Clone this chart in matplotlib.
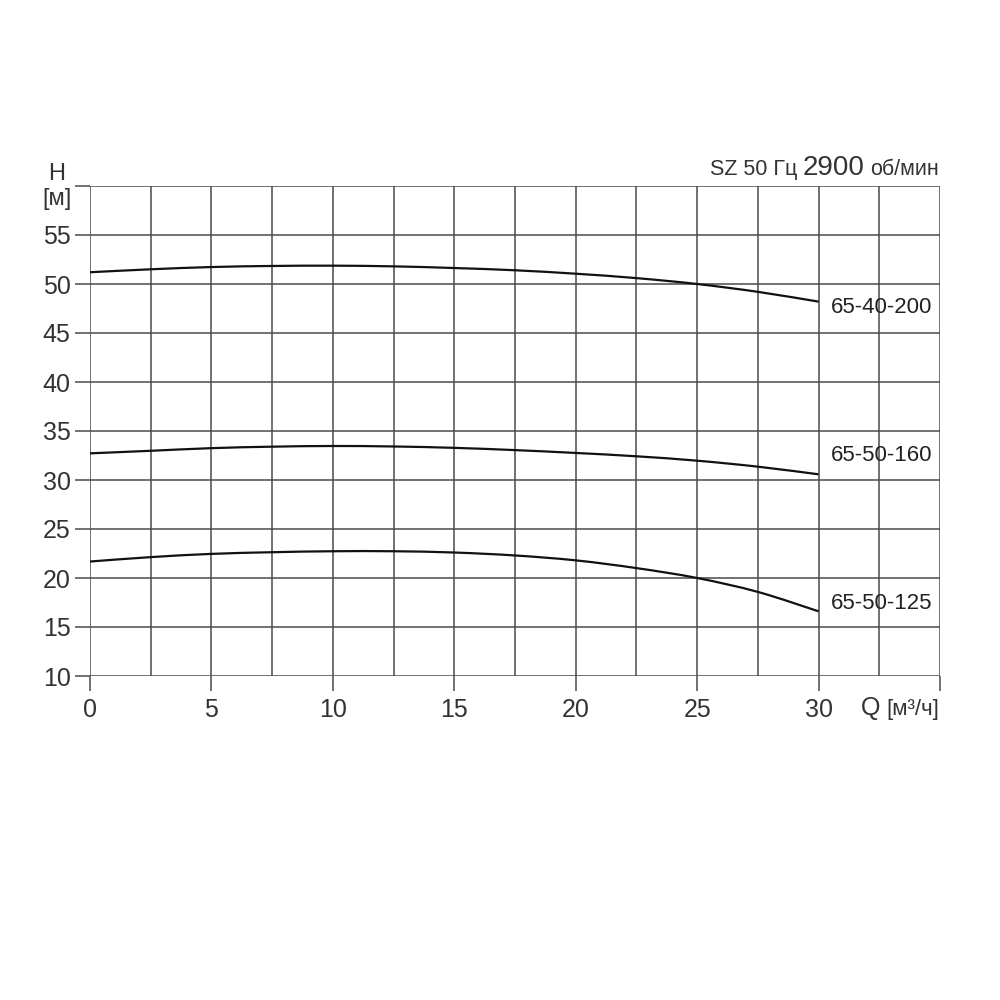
import matplotlib.pyplot as plt
from matplotlib.path import Path
from matplotlib.patches import PathPatch
from matplotlib.offsetbox import TextArea, HPacker, AnchoredOffsetbox

plt.rcParams['font.family'] = ['Liberation Sans', 'DejaVu Sans']

# flow Q [m3/h] and head H [m]
q = [0, 2.5, 5, 7.5, 10, 12.5, 15, 17.5, 20, 22.5, 25, 27.5, 30]
h_200 = [51.2, 51.5, 51.73, 51.84, 51.87, 51.8, 51.63, 51.4, 51.05, 50.6, 50.0, 49.2, 48.2]
h_160 = [32.72, 32.98, 33.25, 33.4, 33.47, 33.42, 33.28, 33.05, 32.76, 32.42, 31.97, 31.36, 30.58]
h_125 = [21.68, 22.13, 22.46, 22.63, 22.73, 22.73, 22.6, 22.3, 21.8, 21.01, 20.0, 18.58, 16.6]
names = ["65-40-200", "65-50-160", "65-50-125"]
label_h = [47.65, 32.45, 17.35]

x_ticks = [0, 5, 10, 15, 20, 25, 30, 35]
x_labels = ["0", "5", "10", "15", "20", "25", "30", ""]
y_ticks = [10, 15, 20, 25, 30, 35, 40, 45, 50, 55, 60]
y_labels = ["10", "15", "20", "25", "30", "35", "40", "45", "50", "55", ""]

grid_c = "#4a4a4a"
txt_c = "#333333"


def smooth_path(xs, ys):
    # catmull-rom through the read points, drawn as cubic bezier segments
    verts = [(xs[0], ys[0])]
    codes = [Path.MOVETO]
    n = len(xs)
    for i in range(n - 1):
        x0, y0 = (xs[i - 1], ys[i - 1]) if i > 0 else (xs[i], ys[i])
        x1, y1 = xs[i], ys[i]
        x2, y2 = xs[i + 1], ys[i + 1]
        x3, y3 = (xs[i + 2], ys[i + 2]) if i + 2 < n else (x2, y2)
        verts += [(x1 + (x2 - x0) / 6, y1 + (y2 - y0) / 6),
                  (x2 - (x3 - x1) / 6, y2 - (y3 - y1) / 6),
                  (x2, y2)]
        codes += [Path.CURVE4] * 3
    return Path(verts, codes)


fig = plt.figure(figsize=(10, 10), dpi=100)
ax = fig.add_axes([0.09, 0.324, 0.85, 0.49])

ax.set_xlim(0, 35)
ax.set_ylim(10, 60)
for s in ax.spines.values():
    s.set_visible(False)

ax.set_xticks(x_ticks)
ax.set_xticklabels(x_labels)
ax.set_xticks([i * 2.5 for i in range(15)], minor=True)
ax.set_yticks(y_ticks)
ax.set_yticklabels(y_labels)

ax.tick_params(axis="both", which="major", direction="out", length=11, width=1.1,
               color=grid_c, labelsize=18, labelcolor=txt_c)
ax.tick_params(axis="x", which="major", pad=5)
ax.tick_params(axis="y", which="major", pad=3)
ax.tick_params(axis="x", which="minor", length=0)

ax.grid(True, which="both", axis="x", color=grid_c, lw=1.1)
ax.grid(True, which="major", axis="y", color=grid_c, lw=1.1)
ax.set_axisbelow(True)

for h, name, lh in zip([h_200, h_160, h_125], names, label_h):
    ax.add_patch(PathPatch(smooth_path(q, h), facecolor="none", edgecolor="#111111",
                           lw=1.6, capstyle="butt"))
    ax.annotate(name, xy=(q[-1], lh), xytext=(9, 0), textcoords="offset points",
                ha="left", va="center", fontsize=16, color="#222222")

# axis captions
fig.text(0.057, 0.826, "H", ha="center", va="center", fontsize=17, color=txt_c)
fig.text(0.057, 0.801, "[м]", ha="center", va="center", fontsize=17, color=txt_c)

qbox = HPacker(children=[TextArea("Q", textprops=dict(fontsize=18, color=txt_c)),
                         TextArea("[м³/ч]", textprops=dict(fontsize=16, color=txt_c))],
               align="baseline", pad=0, sep=4)
ax.add_artist(AnchoredOffsetbox(loc="center right", child=qbox, frameon=False, pad=0,
                                bbox_to_anchor=(0.946, 0.292), bbox_transform=fig.transFigure))

tbox = HPacker(children=[TextArea("SZ 50 Гц", textprops=dict(fontsize=15.5, color=txt_c)),
                         TextArea("2900", textprops=dict(fontsize=20, color=txt_c)),
                         TextArea("об/мин", textprops=dict(fontsize=15.5, color=txt_c))],
               align="baseline", pad=0, sep=4)
ax.add_artist(AnchoredOffsetbox(loc="center right", child=tbox, frameon=False, pad=0,
                                bbox_to_anchor=(0.946, 0.832), bbox_transform=fig.transFigure))

fig.savefig("out.png", dpi=100, facecolor="white")
